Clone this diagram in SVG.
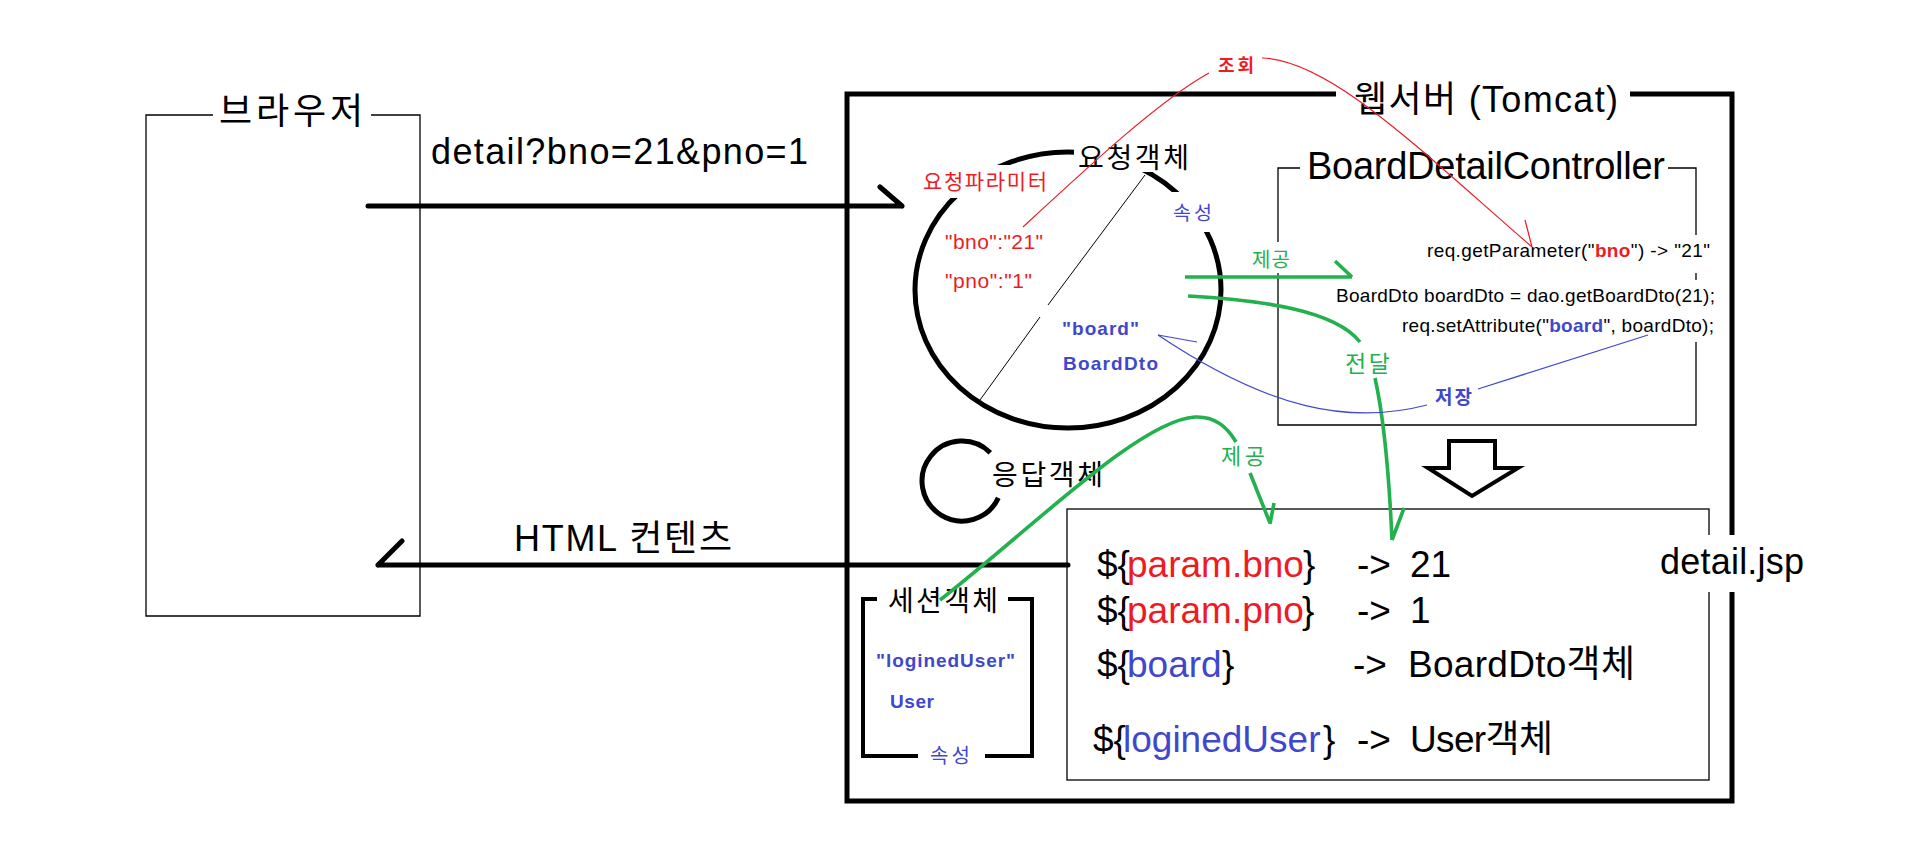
<svg xmlns="http://www.w3.org/2000/svg" width="1905" height="861" viewBox="0 0 1905 861">
<style>
text { font-family: "Liberation Sans", "Noto Sans CJK KR", sans-serif; fill: #000; }
.kr { font-family: "Noto Sans CJK KR", "Liberation Sans", sans-serif; }
.b { font-weight: bold; }
.red { fill: #ED1C24; }
.blue { fill: #3F48CC; }
.green { fill: #22B14C; }
.thick { fill: none; stroke: #000; stroke-width: 5; }
.med { fill: none; stroke: #000; stroke-width: 4; }
.thin { fill: none; stroke: #000; stroke-width: 1.3; }
.bg { fill: #fff; }
.rl { fill: none; stroke: #ED1C24; stroke-width: 1.2; }
.bl { fill: none; stroke: #3F48CC; stroke-width: 1.2; }
.gl { fill: none; stroke: #22B14C; stroke-width: 3.6; }
.arw { fill: none; stroke: #000; stroke-width: 5; stroke-linecap: round; }
</style>
<rect x="0" y="0" width="1905" height="861" fill="#fff"/>

<g id="webserver">
  <path class="thick" d="M1336,94 H847 V801 H1732 V94 H1630"/>
  <text x="1354" y="112" font-size="36" textLength="264">웹서버 (Tomcat)</text>
</g>

<g id="browser">
  <path class="thin" d="M213,115 H146 V616 H420 V115 H371"/>
  <text class="kr" x="219" y="124" font-size="36" textLength="144">브라우저</text>
</g>

<g id="request">
  <ellipse class="thick" cx="1068" cy="290" rx="153" ry="138"/>
  <path fill="none" stroke="#000" stroke-width="1" d="M1145,175 L1048,305 M1040,317 L980,400"/>
  <rect class="bg" x="918" y="165" width="132" height="33"/>
  <rect class="bg" x="1074" y="140" width="116" height="32"/>
  <rect class="bg" x="1168" y="192" width="47" height="40"/>
  <text class="kr" x="1078" y="168" font-size="28" textLength="111">요청객체</text>
  <text class="kr red" x="923" y="189" font-size="21" textLength="124">요청파라미터</text>
  <text class="red" x="945" y="249" font-size="21" textLength="98">"bno":"21"</text>
  <text class="red" x="945" y="288" font-size="21" textLength="87">"pno":"1"</text>
  <text class="kr blue" x="1173" y="220" font-size="19.5" textLength="39">속성</text>
  <text class="b blue" x="1062" y="335" font-size="19" textLength="77">"board"</text>
  <text class="b blue" x="1063" y="370" font-size="19" textLength="95">BoardDto</text>
</g>

<g id="controller">
  <path class="thin" d="M1300,168 H1278 V425 H1696 V168 H1668"/>
  <rect class="bg" x="1420" y="235" width="295" height="38"/>
  <rect class="bg" x="1330" y="280" width="390" height="62"/>
  <text x="1307" y="179" font-size="38" textLength="358">BoardDetailController</text>
  <text x="1427" y="257" font-size="19" textLength="283">req.getParameter("<tspan class="b red">bno</tspan>")  -&gt;  "21"</text>
  <text x="1336" y="302" font-size="19" textLength="379">BoardDto boardDto = dao.getBoardDto(21);</text>
  <text x="1402" y="332" font-size="19" textLength="312">req.setAttribute("<tspan class="b blue">board</tspan>", boardDto);</text>
</g>

<g id="forward-arrow">
  <polygon points="1449,441 1495,441 1495,468 1518,468 1472,496 1428,468 1449,468" fill="#fff" stroke="#000" stroke-width="4" stroke-linejoin="miter"/>
</g>

<g id="response">
  <path class="thick" d="M990.3,452.7 A40,40 0 1 0 998.3,497.9"/>
  <text class="kr" x="992" y="485" font-size="28" textLength="111">응답객체</text>
</g>

<g id="session">
  <path class="med" d="M877,599 H863 V756 H918 M985,756 H1032 V599 H1008"/>
  <text class="kr" x="888" y="611" font-size="28" textLength="110">세션객체</text>
  <text class="b blue" x="876" y="667" font-size="19" textLength="139">"loginedUser"</text>
  <text class="b blue" x="890" y="708" font-size="19" textLength="44">User</text>
  <text class="kr blue" x="930" y="763" font-size="20" textLength="40">속성</text>
</g>

<g id="jsp">
  <rect class="thin" x="1067" y="509" width="642" height="271"/>
  <rect class="bg" x="1655" y="535" width="140" height="57"/>
  <text x="1660" y="574" font-size="36" textLength="144">detail.jsp</text>
  <g font-size="37">
    <text x="1097" y="577">${</text><text class="red" x="1127" y="577">param.bno</text><text x="1303" y="577">}</text>
    <text x="1357" y="577">-&gt;</text><text x="1410" y="577">21</text>
    <text x="1097" y="623">${</text><text class="red" x="1127" y="623">param.pno</text><text x="1302" y="623">}</text>
    <text x="1357" y="623">-&gt;</text><text x="1410" y="623">1</text>
    <text x="1097" y="677">${</text><text class="blue" x="1127" y="677">board</text><text x="1222" y="677">}</text>
    <text x="1353" y="677">-&gt;</text><text x="1408" y="677" textLength="227">BoardDto객체</text>
    <text x="1093" y="752">${</text><text class="blue" x="1123" y="752">loginedUser</text><text x="1323" y="752">}</text>
    <text x="1357" y="752">-&gt;</text><text x="1410" y="752" textLength="143">User객체</text>
  </g>
</g>

<g id="connectors">
  <path class="arw" d="M368,206 H902 M880,187 L902,206"/>
  <text x="431" y="164" font-size="36" textLength="377">detail?bno=21&amp;pno=1</text>

  <path class="arw" d="M1068,565 H378 M402,541 L378,565"/>
  <text x="514" y="551" font-size="36" textLength="218">HTML 컨텐츠</text>

  <path class="rl" d="M1023,227 C1090,165 1160,100 1209,73"/>
  <path class="rl" d="M1262,58 C1330,60 1420,150 1532,247 M1525,220 L1532,247"/>
  <text class="kr b red" x="1218" y="72" font-size="18" textLength="36">조회</text>

  <rect class="bg" x="1248" y="242" width="45" height="31"/>
  <path class="gl" d="M1185,277 H1352 M1335,261 L1352,277"/>
  <text class="kr green" x="1252" y="267" font-size="20" textLength="38">제공</text>

  <path class="gl" d="M1188,296 C1260,300 1335,310 1360,342"/>
  <path class="gl" d="M1375,378 C1381,405 1388,450 1392,540 M1404,508 L1392,540"/>
  <text class="kr green" x="1345" y="372" font-size="23" textLength="45">전달</text>

  <path class="bl" d="M1648,335 L1478,389"/>
  <path class="bl" d="M1427,405 C1350,425 1270,410 1158,335 M1197,342 L1158,335"/>
  <text class="kr b blue" x="1435" y="404" font-size="19" textLength="37">저장</text>

  <path class="gl" d="M940,600 C1030,530 1140,420 1195,417 C1215,416 1228,428 1236,442"/>
  <path class="gl" d="M1250,473 L1270,523 M1274,503 L1270,524"/>
  <text class="kr green" x="1221" y="464" font-size="22" textLength="44">제공</text>
</g>
</svg>
